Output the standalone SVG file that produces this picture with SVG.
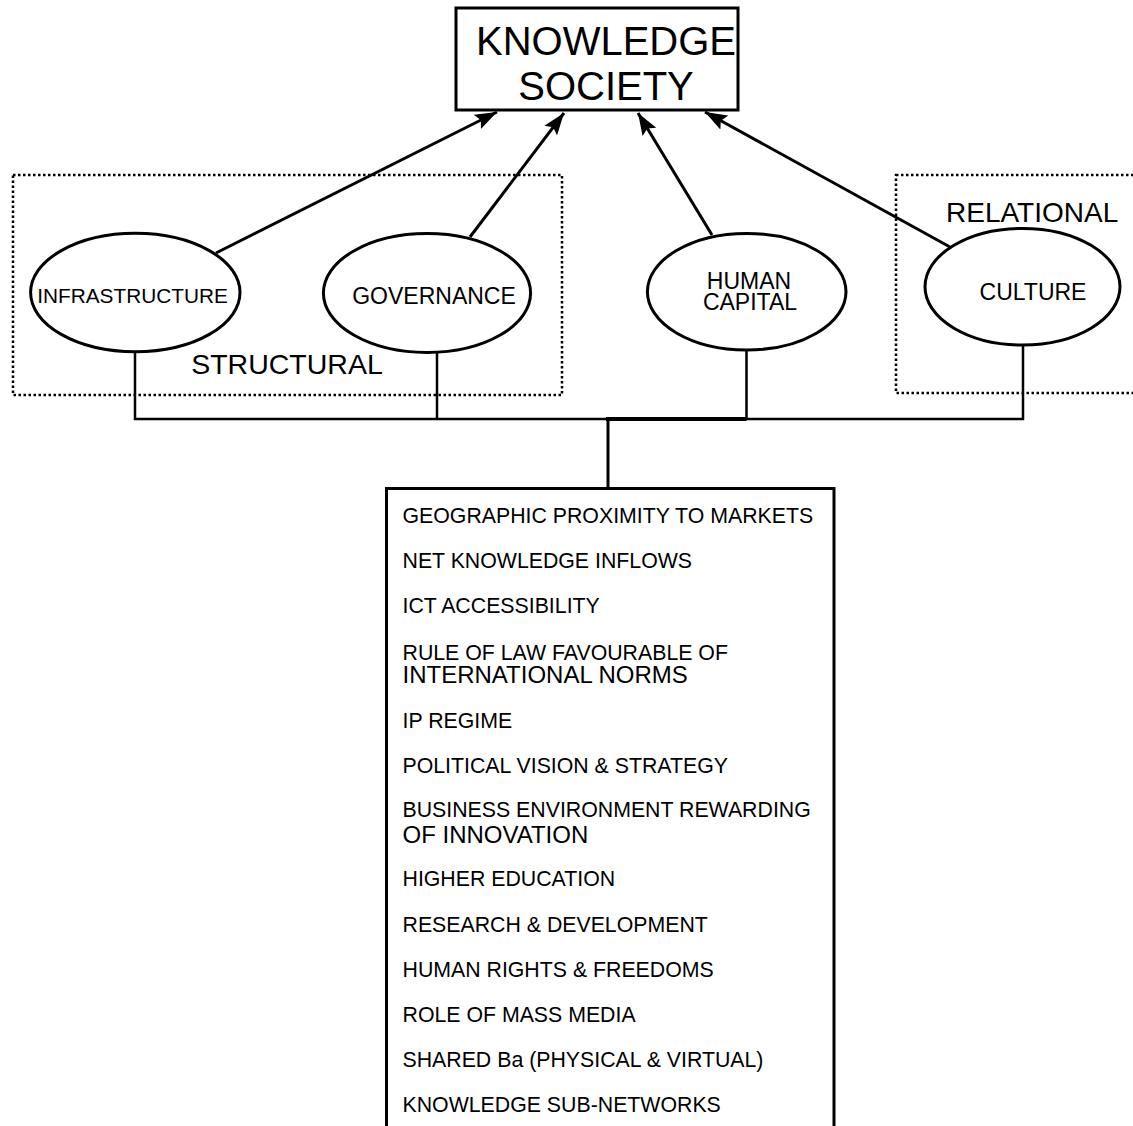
<svg xmlns="http://www.w3.org/2000/svg" width="1133" height="1126" viewBox="0 0 1133 1126">
<style>
  text { font-family: "Liberation Sans", Arial, sans-serif; fill: #000; }
  .node { fill: #fff; stroke: #000; stroke-width: 3; }
  .group { fill: none; stroke: #000; stroke-width: 2.5; stroke-dasharray: 2.5 2.5; }
  .arrow { fill: none; stroke: #000; stroke-width: 3; marker-end: url(#head); }
  .wire { fill: none; stroke: #000; stroke-width: 2.5; }
  .item { font-size: 21.3px; }
</style>
<defs>
  <marker id="head" markerUnits="userSpaceOnUse" markerWidth="24" markerHeight="16" refX="22" refY="8" orient="auto">
    <path d="M0,0 L22,8 L0,16 L4,8 Z" fill="#000"/>
  </marker>
</defs>
<rect width="1133" height="1126" fill="#fff"/>

<g id="group-structural">
  <rect class="group" x="13" y="175" width="549" height="220"/>
  <text x="287" y="374" font-size="28.5" text-anchor="middle">STRUCTURAL</text>
</g>
<g id="group-relational">
  <rect class="group" x="896" y="175" width="260" height="218"/>
  <text x="946" y="222" font-size="28">RELATIONAL</text>
</g>

<g id="connectors">
  <line class="arrow" x1="216" y1="253" x2="497" y2="112"/>
  <line class="arrow" x1="470" y1="237" x2="564" y2="113"/>
  <line class="arrow" x1="712" y1="235" x2="638" y2="113"/>
  <line class="arrow" x1="950" y1="247" x2="705" y2="112"/>
  <polyline class="wire" points="135,351 135,419 1023,419 1023,345"/>
  <line class="wire" x1="437" y1="352" x2="437" y2="419"/>
  <line class="wire" x1="746.5" y1="350" x2="746.5" y2="419"/>
  <line stroke="#000" stroke-width="4" x1="606" y1="419" x2="746.5" y2="419"/>
  <line stroke="#000" stroke-width="3" x1="608" y1="419" x2="608" y2="489"/>
</g>

<g id="knowledge-society">
  <rect class="node" x="456" y="8" width="282" height="102"/>
  <text x="606" y="55" font-size="40" text-anchor="middle">KNOWLEDGE</text>
  <text x="606" y="100" font-size="40" text-anchor="middle">SOCIETY</text>
</g>

<g id="infrastructure">
  <ellipse class="node" cx="135.3" cy="292.5" rx="104.7" ry="59.2"/>
  <text x="132.5" y="302.7" font-size="20.8" text-anchor="middle">INFRASTRUCTURE</text>
</g>
<g id="governance">
  <ellipse class="node" cx="427" cy="293" rx="103.6" ry="59.5"/>
  <text x="434" y="304" font-size="23" text-anchor="middle">GOVERNANCE</text>
</g>
<g id="human-capital">
  <ellipse class="node" cx="746.7" cy="291.7" rx="99.3" ry="58.3"/>
  <text x="749" y="289" font-size="23" text-anchor="middle">HUMAN</text>
  <text x="750" y="310" font-size="23" text-anchor="middle">CAPITAL</text>
</g>
<g id="culture">
  <ellipse class="node" cx="1022.5" cy="286.7" rx="97.5" ry="58.3"/>
  <text x="1033" y="300" font-size="23" text-anchor="middle">CULTURE</text>
</g>

<g id="factors">
  <rect class="node" x="386.5" y="488.5" width="447.5" height="660"/>
  <text class="item" x="402.5" y="523.3">GEOGRAPHIC PROXIMITY TO MARKETS</text>
  <text class="item" x="402.5" y="568.3">NET KNOWLEDGE INFLOWS</text>
  <text class="item" x="402.5" y="613.3">ICT ACCESSIBILITY</text>
  <text class="item" x="402.5" y="660">RULE OF LAW FAVOURABLE OF</text>
  <text x="402.5" y="683.3" font-size="24">INTERNATIONAL NORMS</text>
  <text class="item" x="402.5" y="727.7">IP REGIME</text>
  <text class="item" x="402.5" y="772.7">POLITICAL VISION &amp; STRATEGY</text>
  <text class="item" x="402.5" y="816.7">BUSINESS ENVIRONMENT REWARDING</text>
  <text x="402.5" y="843.3" font-size="24">OF INNOVATION</text>
  <text class="item" x="402.5" y="885.7">HIGHER EDUCATION</text>
  <text class="item" x="402.5" y="931.7">RESEARCH &amp; DEVELOPMENT</text>
  <text class="item" x="402.5" y="976.7">HUMAN RIGHTS &amp; FREEDOMS</text>
  <text class="item" x="402.5" y="1021.7">ROLE OF MASS MEDIA</text>
  <text class="item" x="402.5" y="1067.3">SHARED Ba (PHYSICAL &amp; VIRTUAL)</text>
  <text class="item" x="402.5" y="1112.3">KNOWLEDGE SUB-NETWORKS</text>
</g>
</svg>
